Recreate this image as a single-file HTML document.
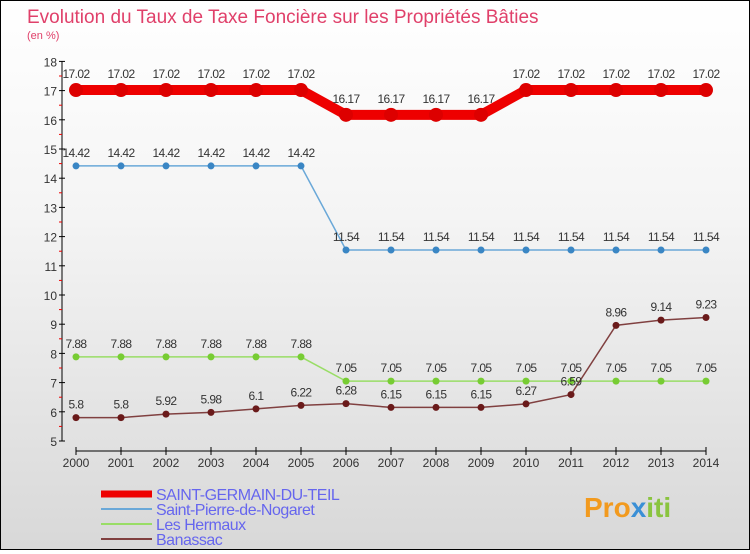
<!DOCTYPE html>
<html><head><meta charset="utf-8"><style>
body{margin:0;width:750px;height:550px;overflow:hidden;font-family:"Liberation Sans",sans-serif}
#wrap{position:relative;width:748px;height:548px;border:1px solid #000;background:linear-gradient(#fff 0%,#f4f4f4 40%,#d8d8d8 100%)}
</style></head><body>
<div id="wrap">
<svg width="748" height="548">
<text x="26" y="22" font-size="19" fill="#e0406a">Evolution du Taux de Taxe Foncière sur les Propriétés Bâties</text>
<text x="26" y="38" font-size="11" fill="#e0406a">(en %)</text>
<g id="axes"></g><g id="series"></g><g id="legend"></g>
<text x="583" y="516" font-size="28" font-weight="bold" fill="#f29a1e">Pro<tspan fill="#3a8fd6">x</tspan><tspan fill="#8ac43f">iti</tspan></text>
</svg></div>
<script>
const years=[2000,2001,2002,2003,2004,2005,2006,2007,2008,2009,2010,2011,2012,2013,2014];
const yTicks=[5,6,7,8,9,10,11,12,13,14,15,16,17,18];
const names=["SAINT-GERMAIN-DU-TEIL","Saint-Pierre-de-Nogaret","Les Hermaux","Banassac"];
const sgdt=[17.02,17.02,17.02,17.02,17.02,17.02,16.17,16.17,16.17,16.17,17.02,17.02,17.02,17.02,17.02];
const spdn=[14.42,14.42,14.42,14.42,14.42,14.42,11.54,11.54,11.54,11.54,11.54,11.54,11.54,11.54,11.54];
const herm=[7.88,7.88,7.88,7.88,7.88,7.88,7.05,7.05,7.05,7.05,7.05,7.05,7.05,7.05,7.05];
const bana=[5.8,5.8,5.92,5.98,6.1,6.22,6.28,6.15,6.15,6.15,6.27,6.59,8.96,9.14,9.23];
const NS="http://www.w3.org/2000/svg";
const X=i=>75+i*45, Y=v=>440-(v-5)*29.2;
function mk(t,a,p){const e=document.createElementNS(NS,t);for(const k in a)e.setAttribute(k,a[k]);p.appendChild(e);return e;}
const ax=document.getElementById('axes');
let l=mk('line',{x1:61,y1:60,x2:61,y2:440,stroke:'#000'},ax);


yTicks.forEach(v=>{mk('line',{x1:58,x2:64,y1:Y(v),y2:Y(v),stroke:'#000'},ax);
if(v<18)mk('line',{x1:58,x2:61,y1:Y(v+0.5),y2:Y(v+0.5),stroke:'#e00'},ax);
const t=mk('text',{x:56,y:Y(v)+5,'text-anchor':'end','font-size':12,fill:'#333'},ax);t.textContent=v;

});
l=mk('line',{x1:75,y1:450,x2:705,y2:450,stroke:'#000'},ax);


years.forEach((y,i)=>{mk('line',{x1:X(i),x2:X(i),y1:446,y2:454,stroke:'#000'},ax);
const t=mk('text',{x:X(i),y:466,'text-anchor':'middle','font-size':12,fill:'#333'},ax);t.textContent=y;

});
const sg=document.getElementById('series');
const defs=[[sgdt,'#ee0000',10,7,'#dd0000'],[spdn,'#6aa8d8',1.5,3.5,'#3a86c4'],[herm,'#99dd66',1.5,3.5,'#77cc33'],[bana,'#804040',1.5,3.5,'#6a1a1a']];
defs.forEach((d,k)=>{const [vals,col,w,r,pc]=d;
const g=mk('g',{},sg);


mk('polyline',{points:vals.map((v,i)=>X(i)+','+Y(v)).join(' '),fill:'none',stroke:col,'stroke-width':w},g);
vals.forEach((v,i)=>{const c=mk('circle',{cx:X(i),cy:Y(v),r:r,fill:pc},g);


const t=mk('text',{x:X(i),y:Y(v)-(k==0?12:9),'text-anchor':'middle','font-size':12,fill:'#333','letter-spacing':'-0.6'},g);t.textContent=v;

});});
const lg=document.getElementById('legend');
const lc=[['#ee0000',7],['#6aa8d8',2],['#99dd66',2],['#804040',2]];
names.forEach((n,k)=>{const y=493+k*15;
const g=mk('g',{},lg);


mk('line',{x1:100,x2:151,y1:y,y2:y,stroke:lc[k][0],'stroke-width':lc[k][1]},g);
const t=mk('text',{x:155,y:y+6,'font-size':16,fill:'#6666ee','letter-spacing':'-0.5'},g);t.textContent=n;});
</script></body></html>
